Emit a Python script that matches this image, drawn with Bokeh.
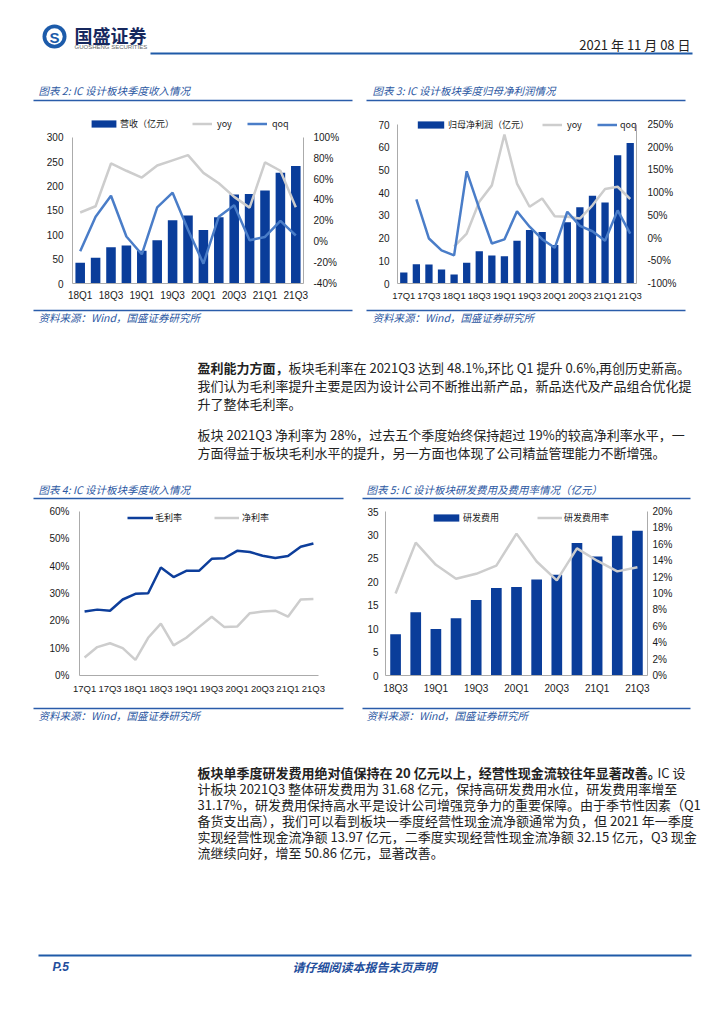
from bokeh.plotting import figure
from bokeh.models import Range1d, LinearAxis, FixedTicker, PrintfTickFormatter, Legend, LegendItem
from bokeh.layouts import column, row
from bokeh.embed import file_html
from bokeh.resources import INLINE
from bokeh.core.properties import value

NaN = float("nan")

# ---------------- data ----------------
# Chart 2: IC design revenue by quarter
rev_quarters = ["18Q1", "18Q2", "18Q3", "18Q4", "19Q1", "19Q2", "19Q3", "19Q4",
                "20Q1", "20Q2", "20Q3", "20Q4", "21Q1", "21Q2", "21Q3"]
rev_values = [42.6, 52.8, 74.5, 77.9, 67.0, 89.0, 130.0, 139.5, 109.7, 136.0, 182.8, 183.5, 191.0, 227.5, 241.0]
rev_yoy = [28, 34, 75, 68, 61.5, 73, 78, 83, 66, 56, 43, 32.7, 76, 68, 33]
rev_qoq = [-9, 24, 44, 5, -12, 33, 47, 11.5, -21, 24, 35, 1.4, 4.6, 20, 6]
rev_left_ticks = [0, 50, 100, 150, 200, 250, 300]
rev_right_ticks = [-40, -20, 0, 20, 40, 60, 80, 100]

# Chart 3: net profit attributable
np_quarters = ["17Q1", "17Q2", "17Q3", "17Q4", "18Q1", "18Q2", "18Q3", "18Q4", "19Q1", "19Q2",
               "19Q3", "19Q4", "20Q1", "20Q2", "20Q3", "20Q4", "21Q1", "21Q2", "21Q3"]
np_values = [4.8, 8.5, 8.4, 6.2, 4.0, 9.1, 14.2, 12.3, 12.0, 18.8, 23.6, 22.7, 17.0, 27.0, 33.6, 38.6, 35.7, 56.5, 61.9]
np_yoy = [NaN, NaN, NaN, NaN, -19, 10, 80, 116, 228, 120, 69, 87, 48, 47, 43, 72, 108, 113, 86]
np_qoq = [NaN, 85, -1, -27, -38, 147, 65, -12, -3, 59, 25, -2.4, -21.5, 58, 27, 15, -6, 61, 10]
np_left_ticks = [0, 10, 20, 30, 40, 50, 60, 70]
np_right_ticks = [-100, -50, 0, 50, 100, 150, 200, 250]

# Chart 4: margins
margin_quarters = np_quarters
gross_margin = [23.4, 24.1, 23.7, 27.8, 29.9, 30.1, 39.5, 36.0, 38.3, 38.3, 42.7, 42.9, 45.6, 45.2, 43.8, 43.0, 43.7, 47.1, 48.3]
net_margin = [6.6, 10.4, 11.8, 10.0, 5.7, 13.8, 19.0, 11.0, 13.8, 17.7, 21.5, 17.7, 17.9, 22.8, 23.4, 23.7, 21.5, 27.8, 28.0]
margin_ticks = [0, 10, 20, 30, 40, 50, 60]

# Chart 5: R&D expense
rd_quarters = ["18Q3", "18Q4", "19Q1", "19Q2", "19Q3", "19Q4", "20Q1", "20Q2", "20Q3", "20Q4", "21Q1", "21Q2", "21Q3"]
rd_values = [8.8, 13.5, 9.9, 12.2, 16.1, 18.7, 18.9, 20.5, 21.5, 28.3, 25.4, 29.8, 30.9]
rd_rate = [10.0, 16.2, 13.5, 11.8, 12.4, 13.4, 17.3, 13.9, 11.6, 15.5, 14.0, 12.7, 13.2]
rd_left_ticks = [0, 5, 10, 15, 20, 25, 30, 35]
rd_right_ticks = [0, 2, 4, 6, 8, 10, 12, 14, 16, 18, 20]

# ---------------- styles ----------------
BAR = "#0A3D9A"
GRAY = "#CDCDCD"
QOQ = "#4A7DC8"
DARKLINE = "#0D3E9B"
TITLE_BLUE = "#2B57A2"
RULE_BLUE = "#2A5CAA"
AXIS = "#ABABAB"
TXT = "#1A1A1A"
BODY = "#222222"
CJK = "Noto Sans CJK SC"
LAT = "Liberation Sans"
PAGE_W = 724


def band(y_top, y_bot):
    p = figure(width=PAGE_W, height=y_bot - y_top, x_range=Range1d(0, PAGE_W), y_range=Range1d(y_bot, y_top),
               min_border=0, toolbar_location=None, tools="", output_backend="svg",
               x_axis_type=None, y_axis_type=None)
    p.outline_line_color = None
    p.background_fill_color = "white"
    return p


def txt(p, x, y, s, size="13px", color=BODY, style="normal", align="left", font=CJK):
    p.text(x=[x], y=[y], text=[s], text_font=value(font), text_font_size=size, text_color=color,
           text_font_style=style, text_align=align, text_baseline="middle")


def rule(p, x0, x1, y, color=RULE_BLUE, w=1.5):
    p.segment(x0=[x0], y0=[y], x1=[x1], y1=[y], line_color=color, line_width=w)


def style_axis(ax, ticks=None, fmt=None, bounds=None, standoff=7, size="10px"):
    ax.axis_line_color = AXIS
    ax.axis_line_width = 1
    ax.major_tick_line_color = None
    ax.minor_tick_line_color = None
    ax.major_tick_out = 0
    ax.major_tick_in = 0
    ax.minor_tick_out = 0
    ax.minor_tick_in = 0
    ax.major_label_text_font = LAT
    ax.major_label_text_font_size = size
    ax.major_label_text_color = TXT
    ax.major_label_standoff = standoff
    if ticks is not None:
        ax.ticker = FixedTicker(ticks=ticks)
    if fmt is not None:
        ax.formatter = PrintfTickFormatter(format=fmt)
    if bounds is not None:
        ax.bounds = bounds


def chart(width, height, mbl, mbr, mbt, mbb, n, pad, y0, y1):
    p = figure(width=width, height=height, min_border_left=mbl, min_border_right=mbr,
               min_border_top=mbt, min_border_bottom=mbb, x_range=Range1d(-pad, n - 1 + pad),
               y_range=Range1d(y0, y1), toolbar_location=None, tools="", output_backend="svg")
    p.outline_line_color = None
    p.xgrid.visible = False
    p.ygrid.visible = False
    return p


def xlabels(p, quarters, standoff, size="10px"):
    ax = p.xaxis[0]
    style_axis(ax, standoff=standoff, size=size)
    idx = list(range(0, len(quarters), 2))
    ax.ticker = FixedTicker(ticks=idx)
    ax.major_label_overrides = {i: quarters[i] for i in idx}


def leg(p, r, label, x, vy, gw, gh, standoff):
    lg = Legend(items=[LegendItem(label=value(label), renderers=[r])], location=(x, vy),
                orientation="horizontal", glyph_width=gw, glyph_height=gh, label_standoff=standoff,
                padding=0, margin=0, spacing=0, border_line_color=None, background_fill_alpha=0,
                label_text_font=CJK, label_text_font_size="9px", label_text_color=TXT,
                label_height=9, label_width=1)
    p.add_layout(lg)


def ext(v0, v1, px_bottom, px_toptick, px_frametop):
    return v0 + (v1 - v0) * (px_bottom - px_frametop) / (px_bottom - px_toptick)


# ---------------- Chart 2 ----------------
x2 = list(range(len(rev_quarters)))
p2 = chart(360, 203, 72, 57, 9, 22, len(rev_quarters), 0.5, 0, ext(0, 300, 284, 137, 112))
p2.extra_y_ranges = {"pct": Range1d(-40, ext(-40, 100, 284, 137, 112))}
b2 = p2.vbar(x=x2, top=rev_values, width=0.62, fill_color=BAR, line_color=None)
l2a = p2.line(x=x2, y=rev_yoy, y_range_name="pct", line_color=GRAY, line_width=2.5)
l2b = p2.line(x=x2, y=rev_qoq, y_range_name="pct", line_color=QOQ, line_width=2.5)
style_axis(p2.yaxis[0], rev_left_ticks, None, (0, 300), 9)
ax2r = LinearAxis(y_range_name="pct")
style_axis(ax2r, rev_right_ticks, "%d%%", (-40, 100), 10)
p2.add_layout(ax2r, "right")
xlabels(p2, rev_quarters, 6)
leg(p2, b2, "营收（亿元）", 16, 153, 31, 9, 1)
leg(p2, l2a, "yoy", 120, 153, 20, 9, 5)
leg(p2, l2b, "qoq", 175, 153, 20, 9, 5)

# ---------------- Chart 3 ----------------
x3 = list(range(len(np_quarters)))
p3 = chart(364, 203, 37, 88, 9, 23, len(np_quarters), 0.5, 0, ext(0, 70, 283, 124, 112))
p3.extra_y_ranges = {"pct": Range1d(-100, ext(-100, 250, 283, 124, 112))}
b3 = p3.vbar(x=x3, top=np_values, width=0.58, fill_color=BAR, line_color=None)
l3a = p3.line(x=x3, y=np_yoy, y_range_name="pct", line_color=GRAY, line_width=2.5)
l3b = p3.line(x=x3, y=np_qoq, y_range_name="pct", line_color=QOQ, line_width=2.5)
style_axis(p3.yaxis[0], np_left_ticks, None, (0, 70), 8)
ax3r = LinearAxis(y_range_name="pct")
style_axis(ax3r, np_right_ticks, "%d%%", (-100, 250), 11)
p3.add_layout(ax3r, "right")
xlabels(p3, np_quarters, 6, "9.5px")
leg(p3, b3, "归母净利润（亿元）", 17, 152, 33, 9, 1)
leg(p3, l3a, "yoy", 145, 152, 20, 9, 5)
leg(p3, l3b, "qoq", 200, 152, 20, 9, 3)

# ---------------- Chart 4 ----------------
x4 = list(range(len(margin_quarters)))
p4 = chart(360, 201, 79, 42, 8, 29, len(margin_quarters), 0.4, 0, 60)
l4a = p4.line(x=x4, y=gross_margin, line_color=DARKLINE, line_width=2.5)
l4b = p4.line(x=x4, y=net_margin, line_color=GRAY, line_width=2.5)
style_axis(p4.yaxis[0], margin_ticks, "%d%%", None, 10)
xlabels(p4, margin_quarters, 7, "9.5px")
leg(p4, l4a, "毛利率", 48, 151, 26, 9, 2)
leg(p4, l4b, "净利率", 135, 151, 25, 9, 3)

# ---------------- Chart 5 ----------------
x5 = list(range(len(rd_quarters)))
p5 = chart(364, 201, 25, 77, 7, 22, len(rd_quarters), 0.5, 0, 35)
p5.extra_y_ranges = {"pct": Range1d(0, 20)}
b5 = p5.vbar(x=x5, top=rd_values, width=0.53, fill_color=BAR, line_color=None)
l5 = p5.line(x=x5, y=rd_rate, y_range_name="pct", line_color=GRAY, line_width=2.5)
style_axis(p5.yaxis[0], rd_left_ticks, None, None, 7)
ax5r = LinearAxis(y_range_name="pct")
style_axis(ax5r, rd_right_ticks, "%d%%", None, 5)
p5.add_layout(ax5r, "right")
xlabels(p5, rd_quarters, 7)
leg(p5, b5, "研发费用", 45, 151, 32, 9, 1)
leg(p5, l5, "研发费用率", 152, 151, 25, 9, 2)

# ---------------- Band A: header + titles ----------------
A = band(0, 103)
A.circle(x=[54], y=[36], radius=12, fill_color="#1C5BAA", line_color=None)
A.circle(x=[54], y=[36], radius=8.2, fill_color="white", line_color=None)
txt(A, 54, 36.5, "S", size="15px", color="#1C5BAA", style="bold", align="center", font=LAT)
txt(A, 74, 34, "国盛证券", size="18px", color="#16285E", style="bold")
txt(A, 74, 46, "GUOSHENG SECURITIES", size="6px", color="#666666", font=LAT)
txt(A, 690, 44, "2021 年 11 月 08 日", size="13px", color="#222222", align="right")
rule(A, 150, 692, 53, color="#1F5AA8", w=2)
txt(A, 38, 90, "图表 2:  IC 设计板块季度收入情况", size="10.5px", color=TITLE_BLUE, style="italic")
txt(A, 372, 90, "图表 3:  IC 设计板块季度归母净利润情况", size="10.5px", color=TITLE_BLUE, style="italic")
rule(A, 33, 352, 100)
rule(A, 366, 685, 100)

# ---------------- Band B: sources + paragraphs + titles ----------------
B = band(306, 503)
rule(B, 33, 352, 310)
rule(B, 366, 685, 310)
txt(B, 38, 317, "资料来源：Wind，国盛证券研究所", size="10.5px", color=TITLE_BLUE, style="italic")
txt(B, 372, 317, "资料来源：Wind，国盛证券研究所", size="10.5px", color=TITLE_BLUE, style="italic")
txt(B, 197, 367, "盈利能力方面，", style="bold")
txt(B, 288, 367, "板块毛利率在 2021Q3 达到 48.1%,环比 Q1 提升 0.6%,再创历史新高。")
txt(B, 197, 385, "我们认为毛利率提升主要是因为设计公司不断推出新产品，新品迭代及产品组合优化提")
txt(B, 197, 403, "升了整体毛利率。")
txt(B, 197, 434, "板块 2021Q3 净利率为 28%，过去五个季度始终保持超过 19%的较高净利率水平，一")
txt(B, 197, 452, "方面得益于板块毛利水平的提升，另一方面也体现了公司精益管理能力不断增强。")
txt(B, 38, 489, "图表 4:  IC 设计板块季度收入情况", size="10.5px", color=TITLE_BLUE, style="italic")
txt(B, 366, 489, "图表 5:  IC 设计板块研发费用及费用率情况（亿元）", size="10.5px", color=TITLE_BLUE, style="italic")
rule(B, 33, 343, 498)
rule(B, 362, 690, 498)

# ---------------- Band C: sources + paragraph + footer ----------------
C = band(704, 1024)
rule(C, 33, 343, 708)
rule(C, 362, 690, 708)
txt(C, 38, 715, "资料来源：Wind，国盛证券研究所", size="10.5px", color=TITLE_BLUE, style="italic")
txt(C, 366, 715, "资料来源：Wind，国盛证券研究所", size="10.5px", color=TITLE_BLUE, style="italic")
txt(C, 197, 772, "板块单季度研发费用绝对值保持在 20 亿元以上，经营性现金流较往年显著改善。", style="bold")
txt(C, 657, 772, "IC 设")
txt(C, 197, 788, "计板块 2021Q3 整体研发费用为 31.68 亿元，保持高研发费用水位，研发费用率增至")
txt(C, 197, 804, "31.17%，研发费用保持高水平是设计公司增强竞争力的重要保障。由于季节性因素（Q1")
txt(C, 197, 820, "备货支出高），我们可以看到板块一季度经营性现金流净额通常为负，但 2021 年一季度")
txt(C, 197, 836, "实现经营性现金流净额 13.97 亿元，二季度实现经营性现金流净额 32.15 亿元，Q3 现金")
txt(C, 197, 852, "流继续向好，增至 50.86 亿元，显著改善。")
rule(C, 38, 691, 955, color="#1F5AA8", w=2)
txt(C, 52, 966, "P.5", size="12px", color="#1F4E9C", style="bold italic", font=LAT)
txt(C, 364, 966, "请仔细阅读本报告末页声明", size="12px", color="#1F4E9C", style="bold italic", align="center")

page = column(A, row(p2, p3), B, row(p4, p5), C)
open("out.html", "w").write(file_html(page, INLINE))
